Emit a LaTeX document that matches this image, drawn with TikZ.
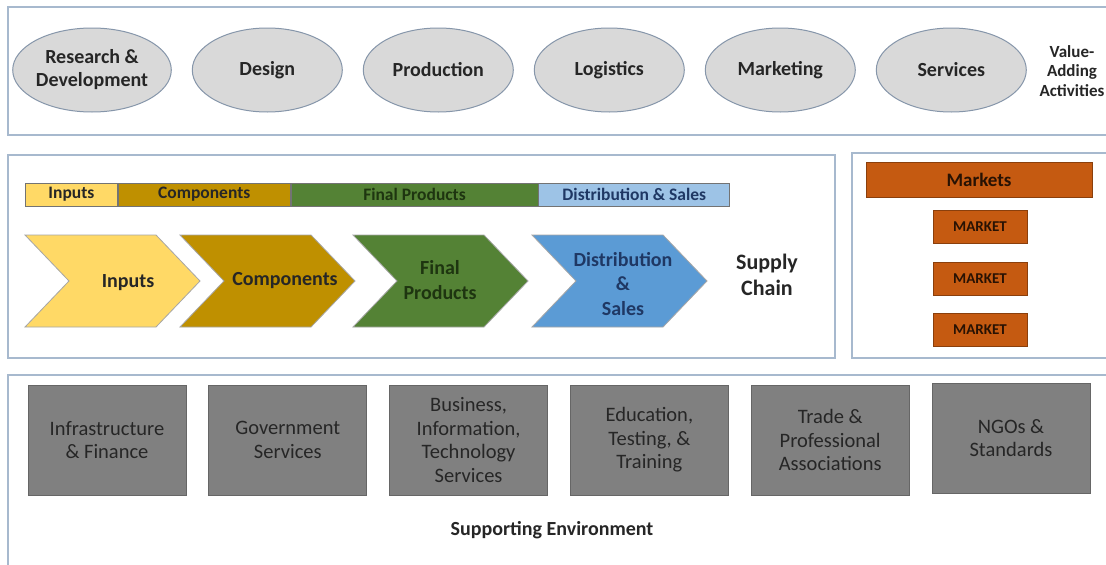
\documentclass[tikz,border=0pt]{standalone}
\usepackage{fontspec}
\setmainfont{Carlito}
\usetikzlibrary{positioning,shapes.geometric}
\definecolor{panelcol}{HTML}{A7B9CE}
\definecolor{ellfill}{HTML}{D9D9D9}
\definecolor{elldraw}{HTML}{8696AA}
\definecolor{inputcol}{HTML}{FFD966}
\definecolor{compcol}{HTML}{BF9000}
\definecolor{finalcol}{HTML}{548235}
\definecolor{distlight}{HTML}{9DC3E6}
\definecolor{distcol}{HTML}{5B9BD5}
\definecolor{navytext}{HTML}{1F3864}
\definecolor{greentext}{HTML}{1E3510}
\definecolor{marketcol}{HTML}{C55A11}
\definecolor{supportcol}{HTML}{808080}
\begin{document}
\begin{tikzpicture}[x=1pt, y=-1pt,
  panel/.style={draw=panelcol, line width=1.5pt},
  activity/.style={ellipse, draw=elldraw, line width=1pt, fill=ellfill, minimum width=150pt,
    minimum height=84pt, inner sep=0pt, align=center, text=black!85,
    font=\bfseries\fontsize{20}{23}\selectfont},
  band/.style={draw=black!55, line width=0.8pt, minimum height=23pt, inner sep=0pt, anchor=west,
    text=black!85, font=\bfseries\fontsize{17.5}{19}\selectfont},
  chevtext/.style={align=center, text=black!85, font=\bfseries\fontsize{20}{24.5}\selectfont},
  market/.style={draw=marketcol!70!black, line width=0.8pt, fill=marketcol, inner sep=0pt,
    text=black!80!marketcol, font=\bfseries\fontsize{15}{17}\selectfont},
  support/.style={draw=black!60, line width=0.8pt, fill=supportcol, minimum width=158pt,
    minimum height=110pt, inner sep=0pt, align=center, text=black!85,
    font=\fontsize{20.5}{23.5}\selectfont},
  paneltitle/.style={align=center, text=black!85, font=\bfseries\fontsize{20}{24}\selectfont}]
\clip (0,0) rectangle (1106,565);
\fill[white] (0,0) rectangle (1106,565);

% panels
\draw[panel] (8,7) rectangle (1120,135);
\draw[panel] (8,155) rectangle (835,358);
\draw[panel] (852,153) rectangle (1120,358);
\draw[panel] (8,375) rectangle (1120,580);

% value-adding activities
\node[activity] (rnd) at (92,70) {Research \&\\Development};
\node[activity, right=20pt of rnd] (design) {Design};
\node[activity, right=20pt of design] (production) {Production};
\node[activity, right=20pt of production] (logistics) {Logistics};
\node[activity, right=20pt of logistics] (marketing) {Marketing};
\node[activity, right=20pt of marketing] (services) {Services};
\node[paneltitle, font=\bfseries\fontsize{17}{19.5}\selectfont] (value) at (1072,71) {Value-\\Adding\\Activities};

% supply chain band
\node[band, fill=inputcol, minimum width=92pt] (binputs) at (25,194.5) {Inputs};
\node[band, fill=compcol, minimum width=172pt, right=0pt of binputs] (bcomp) {Components};
\node[band, fill=finalcol, minimum width=247pt, right=0pt of bcomp, text=greentext] (bfinal) {Final Products};
\node[band, fill=distlight, minimum width=191pt, right=0pt of bfinal, text=navytext] (bdist) {Distribution \& Sales};

% chevrons
\foreach \x/\c in {25/inputcol, 180/compcol, 353/finalcol, 532/distcol}
  \filldraw[fill=\c, draw=black!35, line width=0.8pt]
    (\x,235) -- ++(131,0) -- ++(44,46) -- ++(-44,46) -- ++(-131,0) -- ++(44,-46) -- cycle;
\node[chevtext] (cinputs) at (128,283) {Inputs};
\node[chevtext] (ccomp) at (285,281) {Components};
\node[chevtext, text=greentext] (cfinal) at (440,280) {Final\\Products};
\node[chevtext, text=navytext] (cdist) at (623,284) {Distribution\\\&\\Sales};
\node[paneltitle, font=\bfseries\fontsize{22}{26}\selectfont] (supply) at (767,275) {Supply\\Chain};

% markets
\node[market, minimum width=226pt, minimum height=35pt, font=\bfseries\fontsize{19}{21}\selectfont] (markets) at (979,180) {Markets};
\foreach \y [count=\i] in {226.5, 278.5, 330}
  \node[market, minimum width=94pt, minimum height=33pt] (mkt\i) at (980,\y) {MARKET};

% supporting environment
\node[support] (infra) at (107,440) {Infrastructure\\\& Finance};
\node[support, right=22pt of infra] (gov) {Government\\Services};
\node[support, right=22pt of gov] (business) {Business,\\Information,\\Technology\\Services};
\node[support, right=22pt of business] (education) {Education,\\Testing, \&\\Training};
\node[support, right=22pt of education] (trade) {Trade \&\\Professional\\Associations};
\node[support, right=22pt of trade, yshift=2pt] (ngo) {NGOs \&\\Standards};
\node[paneltitle] (supporting) at (552,530) {Supporting Environment};
\end{tikzpicture}
\end{document}
